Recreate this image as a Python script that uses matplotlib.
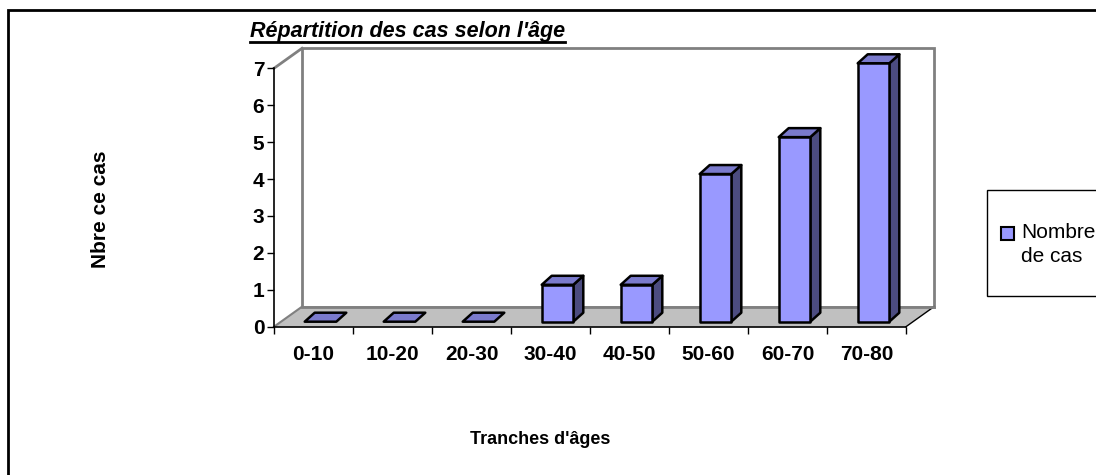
import numpy as np
import matplotlib
matplotlib.use("Agg")
import matplotlib.pyplot as plt
from matplotlib.patches import Polygon, Rectangle
from matplotlib.lines import Line2D

plt.rcParams['font.family'] = ['Liberation Sans', 'DejaVu Sans']

# données
tranches = ["0-10", "10-20", "20-30", "30-40", "40-50", "50-60", "60-70", "70-80"]
nb_cas = [0, 0, 0, 1, 1, 4, 5, 7]
titre = "Répartition des cas selon l'âge"
label_x = "Tranches d'âges"
label_y = "Nbre ce cas"
label_serie = "Nombre\nde cas"

W, H = 1096, 475
# zone de tracé en pixels
x0, x1 = 274, 906
y_bas, y_haut = 326.7, 68.3
ymax = 7
px_x = (x1 - x0) / len(tranches)
px_y = (y_bas - y_haut) / ymax

# profondeur du sol / des barres (pixels -> unités)
sol_dx, sol_dy = 28 / px_x, 20 / px_y
bar_dx, bar_dy = 10 / px_x, 9 / px_y
bar_off_x, bar_w = 30.7 / px_x, 31.6 / px_x
bar_off_y = 5 / px_y

c_face = "#9999FF"
c_haut = "#7A7ACC"
c_cote = "#4C4C80"
c_mur = "#808080"
c_sol = "#C0C0C0"

fig = plt.figure(figsize=(W / 100, H / 100), dpi=100)
ax = fig.add_axes([x0 / W, 1 - y_bas / H, (x1 - x0) / W, (y_bas - y_haut) / H])
n = len(tranches)
ax.set_xlim(0, n)
ax.set_ylim(0, ymax)

# mur du fond
mur = Polygon([(sol_dx, sol_dy), (sol_dx, ymax + sol_dy), (n + sol_dx, ymax + sol_dy),
               (n + sol_dx, sol_dy)], closed=True, facecolor="white",
              edgecolor=c_mur, lw=2, clip_on=False, zorder=1)
ax.add_patch(mur)
ax.add_line(Line2D([0, sol_dx], [ymax, ymax + sol_dy], color=c_mur, lw=2, clip_on=False, zorder=1))
# sol
sol = Polygon([(0, 0), (n, 0), (n + sol_dx, sol_dy), (sol_dx, sol_dy)], closed=True,
              facecolor=c_sol, edgecolor="none", clip_on=False, zorder=1.2)
ax.add_patch(sol)
ax.add_line(Line2D([0, sol_dx], [0, sol_dy], color=c_mur, lw=1.5, clip_on=False, zorder=1.3))
ax.add_line(Line2D([n, n + sol_dx], [0, sol_dy], color="black", lw=1, clip_on=False, zorder=1.3))
ax.add_line(Line2D([sol_dx, n + sol_dx], [sol_dy, sol_dy], color=c_mur, lw=2, clip_on=False, zorder=1.3))

# barres 3D
for i, v in enumerate(nb_cas):
    xl = i + bar_off_x
    xr = xl + bar_w
    yb = bar_off_y
    yt = bar_off_y + v
    cote = Polygon([(xr, yb), (xr + bar_dx, yb + bar_dy), (xr + bar_dx, yt + bar_dy), (xr, yt)],
                   closed=True, facecolor=c_cote, edgecolor="black", lw=1.8,
                   joinstyle="round", clip_on=False, zorder=3)
    haut = Polygon([(xl, yt), (xl + bar_dx, yt + bar_dy), (xr + bar_dx, yt + bar_dy), (xr, yt)],
                   closed=True, facecolor=c_haut, edgecolor="black", lw=1.8,
                   joinstyle="round", clip_on=False, zorder=3)
    face = Polygon([(xl, yb), (xr, yb), (xr, yt), (xl, yt)], closed=True,
                   facecolor=c_face, edgecolor="black", lw=1.8,
                   joinstyle="round", clip_on=False, zorder=3.1)
    if v > 0:
        ax.add_patch(cote)
    ax.add_patch(haut)
    if v > 0:
        ax.add_patch(face)

# axes
for s in ["top", "right"]:
    ax.spines[s].set_visible(False)
ax.spines["left"].set_color("black")
ax.spines["left"].set_linewidth(1.2)
ax.spines["bottom"].set_color("black")
ax.spines["bottom"].set_linewidth(1.2)
ax.set_yticks(range(ymax + 1))
ax.set_yticklabels([str(k) for k in range(ymax + 1)], fontsize=15, fontweight="bold")
ax.set_xticks(np.arange(n + 1))
ax.set_xticklabels([""] * (n + 1))
ax.set_xticks(np.arange(n) + 0.5, minor=True)
ax.set_xticklabels(tranches, minor=True, fontsize=15, fontweight="bold")
ax.tick_params(axis="x", which="minor", length=0, pad=13)
ax.tick_params(axis="x", which="major", length=5, width=1, direction="out")
ax.tick_params(axis="y", length=5, width=1, direction="out", pad=2)
ax.patch.set_visible(False)

# textes
fig.text(100 / W, 1 - 209 / H, label_y, rotation=90, ha="center", va="center",
         fontsize=15, fontweight="bold")
fig.text(540 / W, 1 - 439 / H, label_x, ha="center", va="center",
         fontsize=13, fontweight="bold")
t = fig.text(250 / W, 1 - 31 / H, titre, ha="left", va="center", fontsize=15.5,
             fontweight="bold", fontstyle="italic")
fig.canvas.draw()
bb = t.get_window_extent()
fig.add_artist(Line2D([bb.x0 / W, bb.x1 / W], [1 - 41.5 / H, 1 - 41.5 / H], color="black", lw=2,
                      transform=fig.transFigure))

# légende
fig.add_artist(Rectangle((987 / W, 1 - 296 / H), 120 / W, 106 / H, transform=fig.transFigure,
                         facecolor="white", edgecolor="black", lw=1, clip_on=False))
fig.add_artist(Rectangle((1001 / W, 1 - 240 / H), 13 / W, 13 / H, transform=fig.transFigure,
                         facecolor=c_face, edgecolor="black", lw=1.5, clip_on=False))
fig.text(1021 / W, 1 - 223 / H, label_serie, ha="left", va="top", fontsize=15,
         linespacing=1.3)

# cadre
fig.add_artist(Rectangle((8 / W, -0.1), 1.2, 1.1 - 10 / H, transform=fig.transFigure,
                         facecolor="none", edgecolor="black", lw=2, clip_on=False))

fig.savefig("out.png", dpi=100)
